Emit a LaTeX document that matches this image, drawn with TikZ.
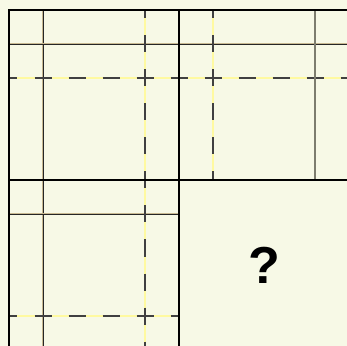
\documentclass[tikz,border=0pt]{standalone}
\usepackage{fontspec}
\setmainfont{Liberation Sans}
\usetikzlibrary{positioning}

\definecolor{paper}{RGB}{247,249,230}
\definecolor{guideyellow}{RGB}{255,250,160}
\definecolor{halo}{RGB}{200,185,145}
\definecolor{greyline}{RGB}{125,125,110}

\begin{document}
\begin{tikzpicture}[
    x=34pt, y=-34pt,
    frame/.style={draw=black, line width=2.6pt},
    thinline/.style={draw=halo, double=black!85, double distance=0.9pt, line width=0.7pt},
    guide/.style={preaction={draw=guideyellow, solid, line width=2.4pt},
                  draw=black!75, line width=2.4pt, dash pattern=on 17pt off 17pt, dash phase=8.5pt},
    faint/.style={draw=greyline, line width=2.8pt},
    qmark/.style={font=\bfseries\fontsize{52}{52}\selectfont, inner sep=0pt}
]

% Paper and margins
\fill[paper] (-0.2647,-0.2941) rectangle (9.941,9.882);
\clip (-0.2647,-0.2941) rectangle (9.941,9.882);

% Top left square
\draw[thinline] (1,0) -- (1,5);
\draw[thinline] (0,1) -- (5,1);
\draw[guide] (0,2) -- (5,2);
\draw[guide] (4,0) -- (4,5);

% Top right square
\draw[thinline] (5,1) -- (10,1);
\draw[guide] (5,2) -- (10,2);
\draw[guide] (6,0) -- (6,5);
\draw[faint] (9,0) -- (9,5);

% Bottom left square
\draw[thinline] (1,5) -- (1,10);
\draw[thinline] (0,6) -- (5,6);
\draw[guide] (4,5) -- (4,10);
\draw[guide] (0,9) -- (5,9);

% Square frames
\draw[frame] (0,0) rectangle (5,5);
\draw[frame] (5,0) rectangle (10,5);
\draw[frame] (0,5) rectangle (5,10);
\draw[frame] (5,5) rectangle (10,10);

% Missing square
\node[qmark] (unknown) at (7.5,7.5) {?};

\end{tikzpicture}
\end{document}
